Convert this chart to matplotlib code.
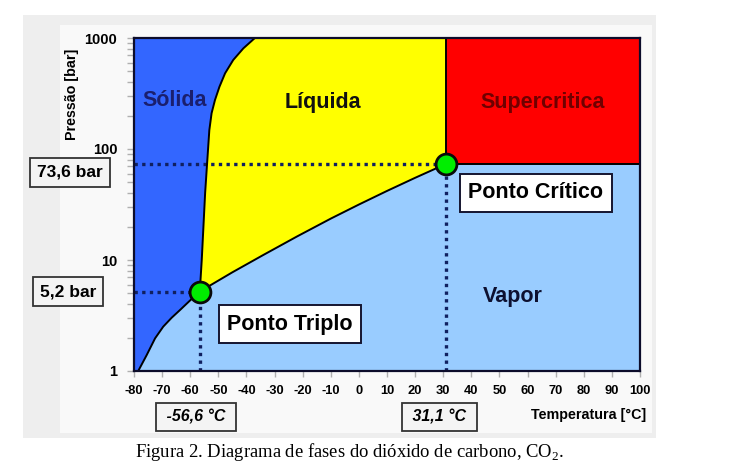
"""Phase diagram of carbon dioxide (CO2), log pressure vs temperature."""

import matplotlib
matplotlib.use('Agg')
import matplotlib.pyplot as plt
import matplotlib.transforms as mtransforms
from matplotlib.patches import Rectangle
from matplotlib.ticker import LogLocator, NullFormatter, FixedLocator

plt.rcParams['font.family'] = ['Liberation Sans', 'DejaVu Sans']
plt.rcParams['mathtext.fontset'] = 'custom'
plt.rcParams['mathtext.rm'] = 'Liberation Serif'

# --- data ------------------------------------------------------------------
t_lim = (-80, 100)
p_lim = (1, 1000)
x_ticks = [-80, -70, -60, -50, -40, -30, -20, -10, 0, 10, 20, 30, 40, 50, 60, 70, 80, 90, 100]
y_ticks = [1, 10, 100, 1000]

triple = (-56.6, 5.2)
critical = (31.1, 73.6)

# solid / liquid boundary (triple point -> top)
melt_t = [-56.6, -55.9, -55.3, -54.7, -54.0, -53.2, -52.4, -51.2, -49.6,
          -47.6, -44.7, -41.1, -37.0]
melt_p = [5.2, 10.0, 20.0, 40.0, 74.0, 148.0, 210.0, 276.0, 364.0,
          481.0, 634.0, 807.0, 1000.0]

# liquid / vapour boundary (triple point -> critical point)
vap_t = [-56.6, -45.0, -34.0, -22.0, -10.0, 0.0, 10.0, 20.0, 31.1]
vap_p = [5.2, 7.75, 11.1, 16.3, 23.6, 31.6, 41.9, 55.0, 73.6]

# solid / vapour boundary (bottom -> triple point)
sub_t = [-78.5, -75.5, -72.5, -69.6, -66.6, -63.6, -60.1, -56.6]
sub_p = [1.0, 1.39, 1.97, 2.51, 3.02, 3.55, 4.31, 5.2]

regions = ['Sólida', 'Líquida', 'Supercritica', 'Vapor']
region_t = [-65.4, -12.8, 65.5, 54.6]
region_p = [276, 265, 265, 4.65]
region_colors = ['#1a1f6e', '#111111', '#700000', '#0d1030']

# --- figure -------------------------------------------------------------------
fig = plt.figure(figsize=(7.33, 4.63), dpi=100)
W, H = 733, 463

# grey panel behind the chart
fig.patches.append(Rectangle((23 / W, 1 - 438 / H), 633 / W, 423 / H,
                             transform=fig.transFigure, facecolor='#eeeeee',
                             edgecolor='none', zorder=-2))
fig.patches.append(Rectangle((60 / W, 1 - 433 / H), 592 / W, 408 / H,
                             transform=fig.transFigure, facecolor='#f9f9f9',
                             edgecolor='none', zorder=-1))

ax = fig.add_axes([134 / W, 1 - 371 / H, 506 / W, 333 / H])
ax.set_zorder(1)
ax.set_yscale('log')
ax.set_xlim(*t_lim)
ax.set_ylim(*p_lim)
ax.set_facecolor('#99ccff')  # vapour

# solid region
solid_t = [t_lim[0]] + melt_t[::-1] + sub_t[::-1][1:] + [t_lim[0]]
solid_p = [p_lim[1]] + melt_p[::-1] + sub_p[::-1][1:] + [p_lim[0]]
ax.fill(solid_t, solid_p, color='#3366ff', lw=0, zorder=1)

# liquid region
liq_t = melt_t + [critical[0], critical[0]] + vap_t[::-1][1:]
liq_p = melt_p + [p_lim[1], critical[1]] + vap_p[::-1][1:]
ax.fill(liq_t, liq_p, color='#ffff00', lw=0, zorder=1)

# supercritical region
sc_t = [critical[0], t_lim[1], t_lim[1], critical[0]]
sc_p = [critical[1], critical[1], p_lim[1], p_lim[1]]
ax.fill(sc_t, sc_p, color='#ff0000', lw=0, zorder=1)

# phase boundaries
line_kw = dict(color='black', lw=1.4, zorder=3, solid_joinstyle='round')
ax.plot(melt_t, melt_p, **line_kw)
ax.plot(vap_t, vap_p, **line_kw)
ax.plot(sub_t, sub_p, **line_kw)
ax.plot([critical[0], critical[0]], [critical[1], p_lim[1]], **line_kw)
ax.plot([critical[0], t_lim[1]], [critical[1], critical[1]], **line_kw)

# dotted guide lines
dot_kw = dict(color='#102060', lw=2.4, ls=(0, (1, 1.3)), zorder=2)
for t, p in (triple, critical):
    ax.plot([t_lim[0], t], [p, p], **dot_kw)
    ax.plot([t, t], [p_lim[0], p], **dot_kw)

ax.plot([triple[0], critical[0]], [triple[1], critical[1]], ls='none',
        marker='o', ms=15, mfc='#00ee00', mec='#0a0a0a', mew=2, zorder=5)

for name, t, p, c in zip(regions, region_t, region_p, region_colors):
    ax.text(t, p, name, ha='center', va='center', fontsize=15.5,
            fontweight='bold', color=c, zorder=4)

box_kw = dict(boxstyle='square,pad=0.4', fc='white', ec='#151530', lw=1.4)
ax.text(63.0, 40.2, 'Ponto Crítico', ha='center', va='center', fontsize=15.5,
        fontweight='bold', bbox=box_kw, zorder=6)
ax.text(-24.5, 2.65, 'Ponto Triplo', ha='center', va='center', fontsize=15.5,
        fontweight='bold', bbox=box_kw, zorder=6)

# axes styling
for s in ax.spines.values():
    s.set_color('#0d0d2b')
    s.set_linewidth(1.6)
    s.set_zorder(7)
ax.xaxis.set_major_locator(FixedLocator(x_ticks))
ax.set_xticklabels([str(v) for v in x_ticks])
ax.yaxis.set_major_locator(FixedLocator(y_ticks))
ax.set_yticklabels([str(v) for v in y_ticks])
ax.yaxis.set_minor_locator(LogLocator(base=10, subs=range(2, 10)))
ax.yaxis.set_minor_formatter(NullFormatter())
ax.tick_params(axis='x', which='major', direction='out', length=4, width=1,
               color='#b0b0b0', pad=6, labelsize=9.3)
ax.tick_params(axis='y', which='both', direction='out', length=5, width=1,
               color='#b0b0b0', pad=7, labelsize=10.5)
for lab in ax.get_xticklabels() + ax.get_yticklabels():
    lab.set_fontweight('bold')

fig.text(72 / W, 1 - 94 / H, 'Pressão [bar]', rotation=90, ha='center',
         va='center', fontsize=10.3, fontweight='bold')
fig.text(646 / W, 1 - 415 / H, 'Temperatura [°C]', ha='right', va='center',
         fontsize=10.3, fontweight='bold')

# value boxes outside the axes
lab_box = dict(boxstyle='square,pad=0.4', fc='#f4f4f4', ec='#333333', lw=1.3)
ty = mtransforms.blended_transform_factory(fig.transFigure, ax.transData)
tx = mtransforms.blended_transform_factory(ax.transData, fig.transFigure)
ax.text(70 / W, critical[1] * 0.84, '73,6 bar', transform=ty, ha='center',
        va='center', fontsize=12.5, fontweight='bold', bbox=lab_box, clip_on=False)
ax.text(68 / W, triple[1], '5,2 bar', transform=ty, ha='center', va='center',
        fontsize=12.5, fontweight='bold', bbox=lab_box, clip_on=False)
ax.text(triple[0] - 1.3, 1 - 417 / H, ' -56,6 °C ', transform=tx, ha='center',
        va='center', fontsize=11.5, fontweight='bold', fontstyle='italic',
        bbox=lab_box, clip_on=False)
ax.text(critical[0] - 2.5, 1 - 417 / H, ' 31,1 °C ', transform=tx, ha='center',
        va='center', fontsize=11.5, fontweight='bold', fontstyle='italic',
        bbox=lab_box, clip_on=False)

fig.text(350 / W, 1 - 452 / H,
         r'Figura 2. Diagrama de fases do dióxido de carbono, CO$_\mathrm{2}$.',
         ha='center', va='center', fontsize=13.4, family='Liberation Serif')

fig.savefig('out.png', dpi=100)
